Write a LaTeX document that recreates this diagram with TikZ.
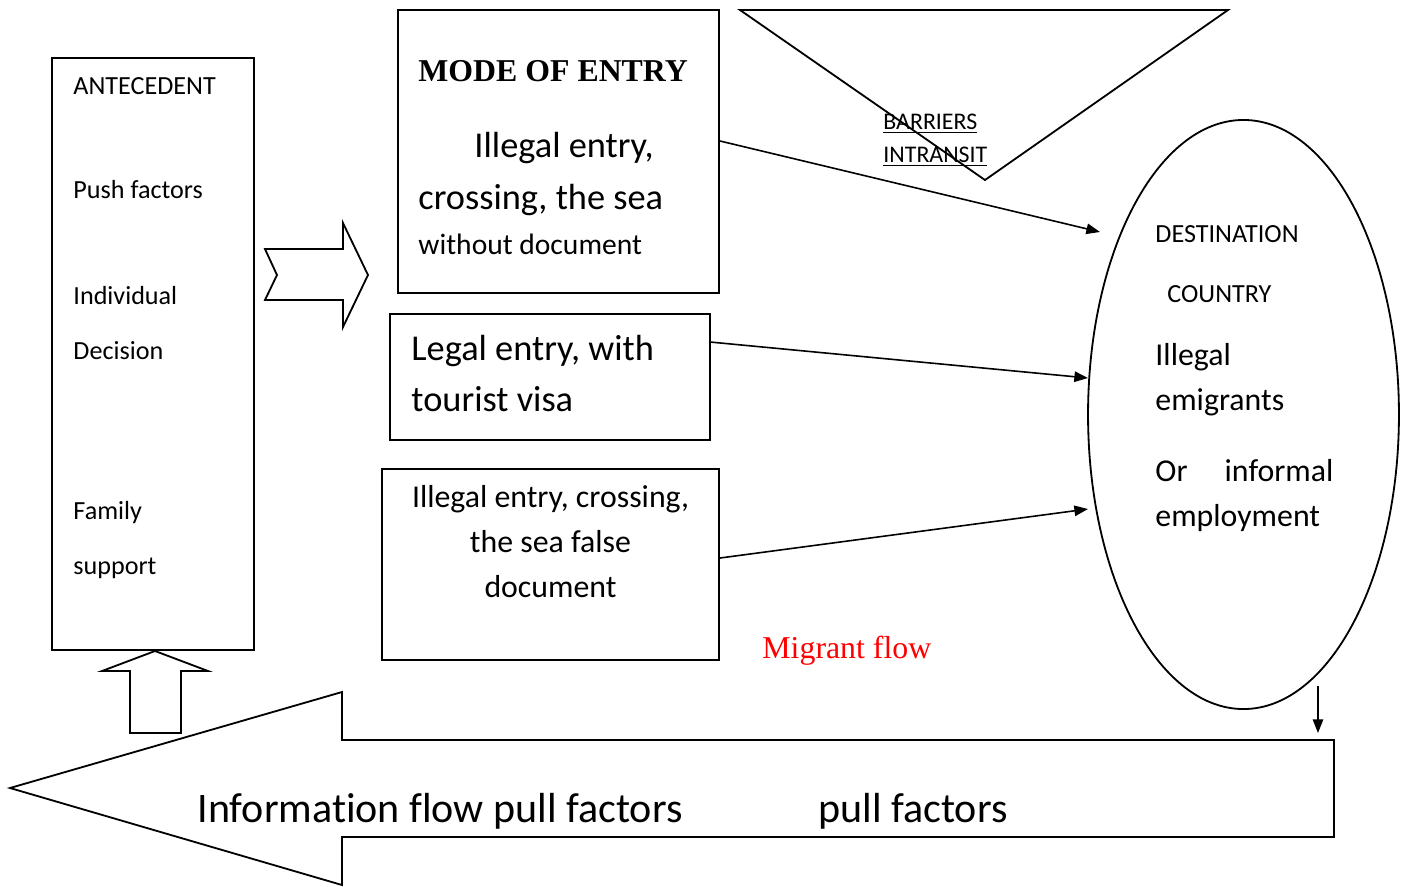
\documentclass[tikz,border=0pt]{standalone}
\usepackage{fontspec}
\setmainfont{Carlito}[Ligatures=NoCommon]
\newfontfamily\timesfont{Liberation Serif}
\usetikzlibrary{arrows.meta,shapes.geometric}
\newcommand{\fsz}[2]{\fontsize{#1}{#2}\selectfont}
\tikzset{
  >={Triangle[length=6pt,width=4.6pt]},
  box/.style={draw,line width=0.8pt,inner sep=0pt},          % plain rectangle
  dest/.style={box,ellipse},                                  % destination oval
  txt/.style={inner sep=0pt,anchor=base west,align=left},
  ctxt/.style={inner sep=0pt,anchor=base,align=center},
  flow/.style={->,line width=0.7pt},
  hollow/.style={draw,line width=0.8pt,line join=miter},      % block arrows
  ul/.style={font=\fsz{10.5}{14.5}},
}

\begin{document}
\begin{tikzpicture}[x=0.44pt,y=-0.44pt]
  \useasboundingbox (0,0) rectangle (1403,886);
  % boxes
  \node[box,minimum width=88.9pt,minimum height=260.5pt]  (ante)  at (153,354)   {};
  \node[box,minimum width=141.2pt,minimum height=124.5pt] (mode)  at (558.5,151.5){};
  \node[box,minimum width=140.8pt,minimum height=55.4pt]  (legal) at (550,377)   {};
  \node[box,minimum width=148.3pt,minimum height=84pt]    (fake)  at (550.5,564.5){};
  \node[dest,minimum width=136.8pt,minimum height=259.2pt](dest)  at (1243.5,414.5){};
  % barriers triangle
  \draw[line width=0.8pt] (740,10) -- (1228,10) -- (985,180) -- cycle;
  % antecedent texts (multi-line: base = last line)
  \node[txt,font=\fsz{11.5}{23.8}] (antT) at (73,94)  {ANTECEDENT};
  \node[txt,font=\fsz{11.5}{23.8}] (push) at (73,198) {Push factors};
  \node[txt,font=\fsz{11.5}{23.8}] (indv) at (73,359) {Individual\\Decision};
  \node[txt,font=\fsz{11.5}{23.8}] (fam)  at (73,574) {Family\\support};
  % mode of entry texts
  \node[txt,font=\timesfont\bfseries\fsz{14}{18}] (modeT) at (418,81) {MODE OF ENTRY};
  \node[txt,font=\fsz{16}{20}] (ill1) at (474,157) {Illegal entry,};
  \node[txt,font=\fsz{16}{20}] (ill2) at (418,209) {crossing, the sea};
  \node[txt,font=\fsz{13}{16}] (ill3) at (418,254) {without document};
  \node[txt,font=\fsz{16}{22.4}] (legT) at (411,411) {Legal entry, with\\tourist visa};
  \node[ctxt,font=\fsz{14}{19.6}] (fakT) at (550.5,597) {Illegal entry, crossing,\\the sea false\\document};
  % destination texts
  \node[txt,font=\fsz{11.5}{14}] (destT) at (1155,242) {DESTINATION};
  \node[txt,font=\fsz{11.5}{14}] (ctry)  at (1167,302) {COUNTRY};
  \node[txt,font=\fsz{14}{19.4}] (emig)  at (1155,410) {Illegal\\emigrants};
  \node[txt,font=\fsz{14}{19.8}] (work)  at (1155,526) {\makebox[78.3pt][s]{Or\hfill informal}\\employment};
  % barriers label
  \node[txt,ul] (barr) at (883,129) {\underline{BARRIERS}};
  \node[txt,ul] (intr) at (883,162) {\underline{INTRANSIT}};
  \node[txt,font=\timesfont\fsz{14}{18},text=red] (migr) at (762,658) {Migrant flow};
  % block arrows
  \draw[hollow] (265,249) -- (343,249) -- (343,223) -- (368,275) -- (343,327)
    -- (343,300) -- (265,300) -- (277,275) -- cycle;
  \draw[hollow] (155,651) -- (208,671) -- (181,671) -- (181,733) -- (130,733)
    -- (130,671) -- (102,671) -- cycle;
  \draw[hollow] (10,788) -- (342,692) -- (342,740) -- (1334,740) -- (1334,837)
    -- (342,837) -- (342,885) -- cycle;
  \node[txt,font=\fsz{18.5}{22}] (info) at (197,822) {Information flow pull factors};
  \node[txt,font=\fsz{18.5}{22}] (pull) at (818,822) {pull factors};
  % flows into destination
  \coordinate (s1) at (720,141);  \coordinate (e1) at (1100,232);
  \coordinate (s2) at (710,342);  \coordinate (e2) at (1088,378);
  \coordinate (s3) at (720,558);  \coordinate (e3) at (1088,509);
  \coordinate (d1) at (1318,686); \coordinate (d2) at (1318,733);
  \draw[flow] (s1) -- (e1);
  \draw[flow] (s2) -- (e2);
  \draw[flow] (s3) -- (e3);
  \draw[flow] (d1) -- (d2);
\end{tikzpicture}
\end{document}
